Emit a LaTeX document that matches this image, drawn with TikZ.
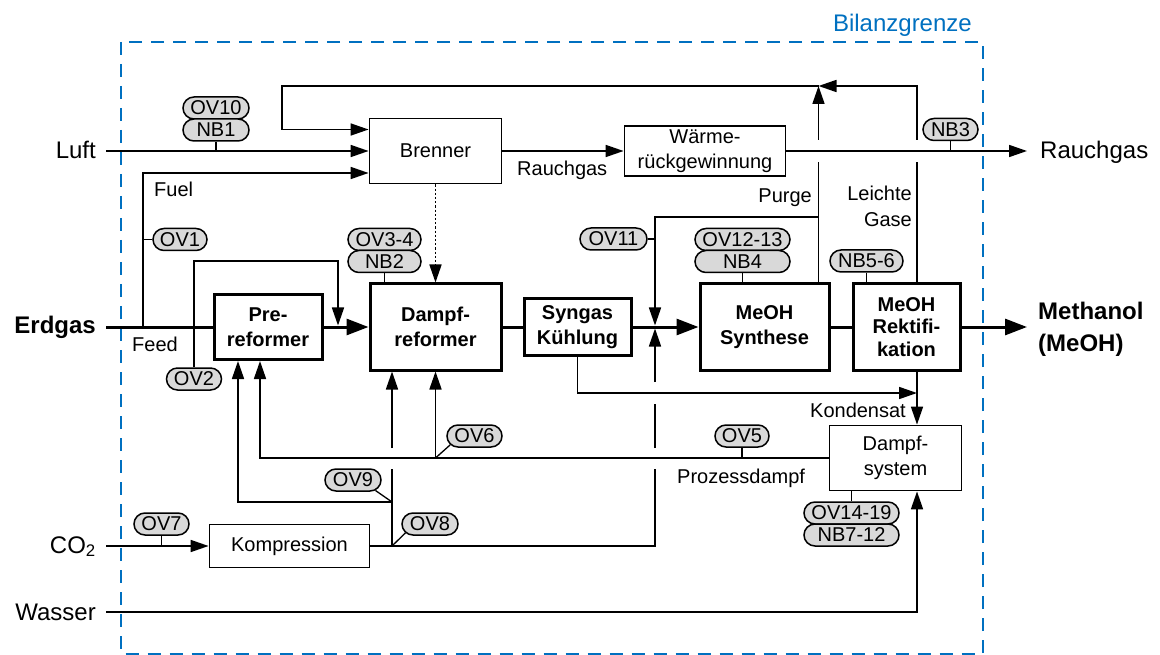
\documentclass[tikz,border=0pt]{standalone}
\usepackage{fontspec}
\setmainfont{Liberation Sans}
\usetikzlibrary{arrows.meta,shapes.misc,calc}
\definecolor{bgrenz}{HTML}{0070C0}
\definecolor{bubfill}{HTML}{D9D9D9}
\newcommand\myfsn{\fontsize{20}{24.5}\selectfont}
\newcommand\myfsb{\fontsize{20}{25.5}\selectfont\bfseries}
\newcommand\myfso{\fontsize{24}{29}\selectfont}
\begin{document}
\begin{tikzpicture}[x=1pt,y=-1pt,
  thinbox/.style={draw,line width=1.8pt,inner sep=0pt,font=\myfsn,align=center},
  thickbox/.style={draw,line width=3pt,inner sep=0pt,font=\myfsb,align=center},
  bub/.style={draw,fill=bubfill,rounded rectangle,line width=1.5pt,inner sep=0pt,minimum height=22pt,font=\myfsn},
  flow/.style={line width=1.7pt},
  arr/.style={flow,-{Triangle[length=18pt,width=12pt]}},
  mainflow/.style={line width=3pt},
  mainarr/.style={mainflow,-{Triangle[length=22pt,width=16pt]}},
  tick/.style={line width=1.3pt},
  lbl/.style={font=\myfsn,inner sep=0pt},
  olbl/.style={font=\myfso,inner sep=0pt},
]
\useasboundingbox (0,0) rectangle (1160,655);
% balance boundary
\draw[bgrenz,line width=2pt,dash pattern=on 13pt off 9pt] (121,42) rectangle (983,653.5);
\node[olbl,text=bgrenz,anchor=base east] (bilanz) at (972,32) {Bilanzgrenze};

% process boxes
\node[thinbox,minimum width=132pt,minimum height=65pt] (brenner) at (435.5,151) {Brenner};
\node[thinbox,minimum width=161pt,minimum height=50pt] (waerme) at (705,151) {Wärme-\\rückgewinnung};
\node[thickbox,minimum width=108pt,minimum height=65pt] (pre) at (268,327) {Pre-\\reformer};
\node[thickbox,minimum width=131pt,minimum height=86pt] (dref) at (435.5,327) {Dampf-\\reformer};
\node[thickbox,minimum width=107pt,minimum height=57pt] (syn) at (577.5,327) {Syngas\\Kühlung};
\node[thickbox,minimum width=129pt,minimum height=86pt] (msyn) at (764.5,327) {MeOH\\Synthese};
\node[thickbox,minimum width=107pt,minimum height=86pt,font=\fontsize{20}{22.5}\selectfont\bfseries] (rekt) at (906.5,327) {MeOH\\Rektifi-\\kation};
\node[thinbox,minimum width=132pt,minimum height=65pt] (dsys) at (895.5,458) {Dampf-\\system};
\node[thinbox,minimum width=160pt,minimum height=43pt] (komp) at (289.5,546) {Kompression};

% coordinates
\coordinate (erdIn) at (106,327);
\coordinate (luftIn) at (106,151);
\coordinate (co2In) at (106,546);
\coordinate (wasIn) at (106,612);
\coordinate (rgOut) at (1027,151);
\coordinate (meOut) at (1027,327);
\coordinate (jFuel) at (143,327);
\coordinate (jBy) at (194,327);
\coordinate (byTop) at (338,261);
\coordinate (byEnd) at (338,325.5);
\coordinate (loopL) at (282,86);
\coordinate (jTop) at (818.5,86);
\coordinate (lgTop) at (917,86);
\coordinate (lgG1) at (917,162);
\coordinate (lgG2) at (917,140);
\coordinate (puG1) at (818.5,162);
\coordinate (puG2) at (818.5,140);
\coordinate (jPurge) at (818.5,217);
\coordinate (recL) at (655,217);
\coordinate (mixTop) at (655,325.5);
\coordinate (mixBot) at (655,328.5);
\coordinate (kondE) at (917,393);
\coordinate (co2J) at (392,546);
\coordinate (co2R) at (655,546);
\coordinate (gA) at (655,469);
\coordinate (gB) at (655,448);
\coordinate (gC) at (655,404);
\coordinate (gD) at (655,382);
\coordinate (hA) at (392,469);
\coordinate (hB) at (392,448);
\coordinate (j9) at (392,502);
\coordinate (pdJ) at (435.5,458);

% main line
\draw[mainflow] (erdIn) -- (pre.west);
\draw[mainarr] (pre.east) -- (dref.west);
\draw[mainflow] (dref.east) -- (syn.west);
\draw[mainarr] (syn.east) -- (msyn.west);
\draw[mainflow] (msyn.east) -- (rekt.west);
\draw[mainarr] (rekt.east) -- (meOut);

% burner side
\draw[arr] (luftIn) -- (brenner.west);
\draw[arr] (jFuel) |- ([yshift=-22pt]brenner.west);
\draw[arr] (jTop) -- (loopL) |- ([yshift=21.5pt]brenner.west);
\draw[arr] (brenner.east) -- (waerme.west);
\draw[arr] (waerme.east) -- (rgOut);
\draw[arr,dash pattern=on 2.2pt off 2pt] (brenner.south) -- (dref.north);

% light gases and purge
\draw[flow] ([xshift=10.5pt]rekt.north) -- (lgG1);
\draw[arr] (lgG2) -- (lgTop) -- (jTop);
\draw[flow] ([xshift=54pt]msyn.north) -- (jPurge) -- (puG1);
\draw[arr] (puG2) -- (jTop);
\draw[arr] (jPurge) -- (recL) -- (mixTop);

% bypass
\draw[arr] (jBy) |- (byTop) -- (byEnd);

% condensate
\draw[arr] (syn.south) |- (kondE);
\draw[arr] ([xshift=10.5pt]rekt.south) -- ([xshift=21.5pt]dsys.north);
\draw[arr] (wasIn) -| ([xshift=21.5pt]dsys.south);

% CO2
\draw[arr] (co2In) -- (komp.west);
\draw[flow] (komp.east) -- (co2R) -- (gA);
\draw[flow] (gB) -- (gC);
\draw[arr] (gD) -- (mixBot);
\draw[flow] (co2J) -- (hA);
\draw[arr] (hB) -- ([xshift=-43.5pt]dref.south);
\draw[arr] (j9) -| ([xshift=-30pt]pre.south);

% process steam
\draw[arr] (dsys.west) -| ([xshift=-8pt]pre.south);
\draw[arr] (pdJ) -- (dref.south);

% bubbles
\node[bub,minimum width=66pt] (ov10) at (216,108) {OV10};
\node[bub,minimum width=66pt] (nb1) at (216,130) {NB1};
\draw[tick] (nb1.south) -- (nb1.south |- luftIn);
\node[bub,minimum width=54pt] (ov1) at (180,239.5) {OV1};
\draw[tick] (ov1.west) -- (ov1.west -| jFuel);
\node[bub,minimum width=55pt] (ov2) at (194,379) {OV2};
\draw[tick] (ov2.north) -- (jBy);
\node[bub,minimum width=73pt] (ov34) at (384.5,239.5) {OV3-4};
\node[bub,minimum width=73pt] (nb2) at (384.5,261.5) {NB2};
\draw[tick] (nb2.south) -- (nb2.south |- dref.north);
\node[bub,minimum width=67pt] (ov11) at (613.5,239) {OV11};
\draw[tick] (ov11.east) -- (ov11.east -| recL);
\node[bub,minimum width=95pt] (ov1213) at (742.5,239.5) {OV12-13};
\node[bub,minimum width=95pt] (nb4) at (742.5,261.5) {NB4};
\draw[tick] (nb4.south) -- (nb4.south |- msyn.north);
\node[bub,minimum width=73pt] (nb56) at (866.5,261) {NB5-6};
\draw[tick] (nb56.south) -- (nb56.south |- rekt.north);
\node[bub,minimum width=55pt] (nb3) at (950.5,129.5) {NB3};
\draw[tick] (nb3.south) -- (nb3.south |- rgOut);
\node[bub,minimum width=55pt] (ov7) at (161.5,524) {OV7};
\draw[tick] (ov7.south) -- (ov7.south |- co2In);
\node[bub,minimum width=56pt] (ov9) at (353,480) {OV9};
\draw[tick] (ov9.-25) -- (j9);
\node[bub,minimum width=56pt] (ov8) at (430,524) {OV8};
\draw[tick] (ov8.-160) -- (co2J);
\node[bub,minimum width=55pt] (ov6) at (474.5,436) {OV6};
\draw[tick] (ov6.-160) -- (pdJ);
\node[bub,minimum width=54pt] (ov5) at (742,436) {OV5};
\draw[tick] (ov5.south) -- (ov5.south |- dsys.west);
\node[bub,minimum width=95pt] (ov1419) at (851.5,513) {OV14-19};
\node[bub,minimum width=95pt] (nb712) at (851.5,535) {NB7-12};
\draw[tick] (ov1419.north) -- (ov1419.north |- dsys.south);

% outer labels
\node[olbl,anchor=base east] (luft) at (96,159) {Luft};
\node[olbl,font=\myfso\bfseries,anchor=base east] (erdgas) at (96,333) {Erdgas};
\node[olbl,anchor=base east] (co2) at (96,553) {CO\textsubscript{2}};
\node[olbl,anchor=base east] (wasser) at (96,620) {Wasser};
\node[olbl,anchor=base west] (rauchout) at (1040,159) {Rauchgas};
\node[olbl,font=\fontsize{24}{32}\selectfont\bfseries,anchor=west,align=left] (methanol) at (1038,329) {Methanol\\(MeOH)};

% inner labels
\node[lbl,anchor=base west] (lfuel) at (154,197) {Fuel};
\node[lbl,anchor=base west] (lfeed) at (132,351) {Feed};
\node[lbl,anchor=base west] (lrauch) at (517,176) {Rauchgas};
\node[lbl,anchor=base east] (lpurge) at (812,203) {Purge};
\node[lbl,anchor=east,align=right,font=\fontsize{20}{26}\selectfont] (lleicht) at (912,206) {Leichte\\Gase};
\node[lbl,anchor=base east] (lkond) at (906,417) {Kondensat};
\node[lbl,anchor=base west] (lpd) at (677,483) {Prozessdampf};
\end{tikzpicture}
\end{document}
